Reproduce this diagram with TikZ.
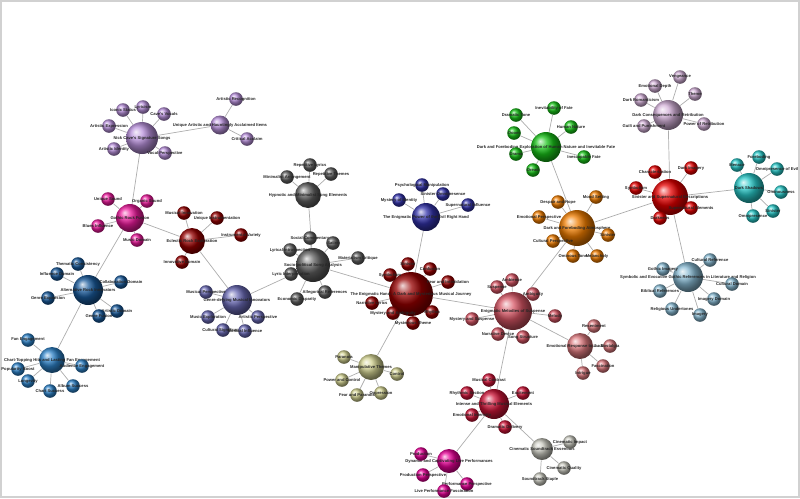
\documentclass[tikz,border=0pt]{standalone}
\usepackage{fontspec}
\newfontfamily\lblfont{Liberation Sans}
\usetikzlibrary{backgrounds}

\definecolor{purpleC}{RGB}{185,145,220}
\definecolor{pinkC}{RGB}{235,25,155}
\definecolor{maroonC}{RGB}{150,0,0}
\definecolor{slateC}{RGB}{105,105,180}
\definecolor{grayC}{RGB}{95,95,95}
\definecolor{navyC}{RGB}{50,50,170}
\definecolor{greenC}{RGB}{25,195,25}
\definecolor{orangeC}{RGB}{240,125,0}
\definecolor{roseC}{RGB}{215,85,100}
\definecolor{salmonC}{RGB}{220,120,125}
\definecolor{crimsonC}{RGB}{205,20,55}
\definecolor{silverC}{RGB}{200,200,190}
\definecolor{magentaC}{RGB}{230,0,150}
\definecolor{oliveC}{RGB}{210,210,145}
\definecolor{steelC}{RGB}{25,90,155}
\definecolor{azureC}{RGB}{45,130,200}
\definecolor{redC}{RGB}{230,0,0}
\definecolor{cyanC}{RGB}{40,200,200}
\definecolor{lightblueC}{RGB}{135,185,210}
\definecolor{mauveC}{RGB}{210,175,215}

\tikzset{
hub/.style 2 args={circle, inner sep=0pt, ball color=#1,
minimum size=#2*0.04cm},
leaf/.style={hub={#1}{6.8}},
link/.style={draw=black!32, line width=0.4pt},
every label/.style={inner sep=0pt, text=black!85,
font=\lblfont\bfseries\fontsize{2.35}{2.5}\selectfont}
}

\begin{document}
\begin{tikzpicture}[x=0.02cm, y=-0.02cm]
\useasboundingbox (0,0) rectangle (800,498);
\draw[black!18, line width=0.04cm] (1,1) rectangle (799,497);

% Nick Cave's songs
\node[hub={purpleC}{16}, label={center:{Nick Cave's Signature Songs}}] (nick) at (142,138) {};
\node[leaf=purpleC, label={center:{Iconic Status}}] (iconic) at (123,110) {};
\node[leaf=purpleC, label={center:{Lyricism}}] (lyricism) at (143,107) {};
\node[leaf=purpleC, label={center:{Cave's Vocals}}] (vocals) at (164,114) {};
\node[leaf=purpleC, label={center:{Artistic Expression}}] (artexpr) at (109,126) {};
\node[leaf=purpleC, label={center:{Artistic Identity}}] (artid) at (114,149) {};
\node[leaf=purpleC, label={center:{Vocal Perspective}}] (vocalp) at (165,153) {};
\node[hub={purpleC}{9.5}, label={center:{Unique Artistic and Hauntingly Acclaimed Items}}] (unique) at (220,125) {};
\node[leaf=purpleC, label={center:{Artistic Recognition}}] (artrec) at (236,99) {};
\node[leaf=purpleC, label={center:{Critical Acclaim}}] (critical) at (247,139) {};

% gothic rock
\node[hub={pinkC}{14}, label={center:{Gothic Rock Fusion}}] (gothic) at (130,218) {};
\node[leaf=pinkC, label={center:{Unique Sound}}] (usound) at (108,199) {};
\node[leaf=pinkC, label={center:{Organic Sound}}] (osound) at (147,201) {};
\node[leaf=pinkC, label={center:{Blues Influence}}] (blues) at (98,226) {};
\node[leaf=pinkC, label={center:{Music Domain}}] (musicdom) at (137,240) {};

\node[hub={maroonC}{13}, label={center:{Eclectic Rock Exploration}}] (eclectic) at (192,241) {};
\node[leaf=maroonC, label={center:{Musical Innovation}}] (musinnov) at (184,213) {};
\node[leaf=maroonC, label={center:{Unique Instrumentation}}] (uinstr) at (217,218) {};
\node[leaf=maroonC, label={center:{Instrumental Variety}}] (instvar) at (241,235) {};
\node[leaf=maroonC, label={center:{Innovative Domain}}] (innovdom) at (182,262) {};

\node[hub={slateC}{15}, label={center:{Genre-defying Musical Innovators}}] (genre) at (237,300) {};
\node[leaf=slateC, label={center:{Musical Perspective}}] (musper) at (206,292) {};
\node[leaf=slateC, label={center:{Music Exploration}}] (musexp) at (208,317) {};
\node[leaf=slateC, label={center:{Artistic Perspective}}] (artper) at (258,317) {};
\node[leaf=slateC, label={center:{Cultural Significance}}] (cultsig) at (223,330) {};
\node[leaf=slateC, label={center:{Musical Influence}}] (musinf) at (245,331) {};

% alternative rock
\node[hub={steelC}{15}, label={center:{Alternative Rock Innovators}}] (altrock) at (88,290) {};
\node[leaf=steelC, label={center:{Thematic Consistency}}] (thematic) at (78,264) {};
\node[leaf=steelC, label={center:{Influence Domain}}] (infdom) at (57,274) {};
\node[leaf=steelC, label={center:{Collaboration Domain}}] (collab) at (121,282) {};
\node[leaf=steelC, label={center:{Genre Expansion}}] (genexp) at (48,298) {};
\node[leaf=steelC, label={center:{Artistic Domain}}] (artdom) at (117,311) {};
\node[leaf=steelC, label={center:{Genre Fusion}}] (genfus) at (99,316) {};

\node[hub={azureC}{13}, label={center:{Chart-Topping Hits and Lasting Fan Engagement}}] (chart) at (52,360) {};
\node[leaf=azureC, label={center:{Fan Engagement}}] (fanen) at (28,340) {};
\node[leaf=azureC, label={center:{Popularity Boost}}] (popboost) at (18,369) {};
\node[leaf=azureC, label={center:{Longevity}}] (longev) at (28,381) {};
\node[leaf=azureC, label={center:{Chart Success}}] (chartsucc) at (50,391) {};
\node[leaf=azureC, label={center:{Album Success}}] (albumsucc) at (73,386) {};
\node[leaf=azureC, label={center:{Audience Engagement}}] (audien) at (82,366) {};

% socio-political
\node[hub={grayC}{17}, label={center:{Socio-political Song Analysis}}] (socio) at (313,265) {};
\node[leaf=grayC, label={center:{Social Commentary}}] (socialc) at (310,238) {};
\node[leaf=grayC, label={center:{Lyrical Introspection}}] (lyrintro) at (290,250) {};
\node[leaf=grayC, label={center:{Lyric Interpretation}}] (lyrinterp) at (291,274) {};
\node[leaf=grayC, label={center:{Satire}}] (satire) at (333,243) {};
\node[leaf=grayC, label={center:{Materialism Critique}}] (materialism) at (358,258) {};
\node[leaf=grayC, label={center:{Allegorical References}}] (allegor) at (325,292) {};
\node[leaf=grayC, label={center:{Economic Disparity}}] (econ) at (297,299) {};

\node[hub={grayC}{13}, label={center:{Hypnotic and Minimalist Song Elements}}] (hypnotic) at (308,195) {};
\node[leaf=grayC, label={center:{Minimalist Arrangement}}] (minimal) at (287,177) {};
\node[leaf=grayC, label={center:{Repetitive Lyrics}}] (replyr) at (310,165) {};
\node[leaf=grayC, label={center:{Repetitive Themes}}] (repthem) at (331,174) {};

% the enigmatic hand
\node[hub={maroonC}{22}, label={center:{The Enigmatic Hand: A Dark and Mysterious Musical Journey}}] (enigma) at (411,294) {};
\node[leaf=maroonC, label={center:{Sinister}}] (sinister1) at (408,264) {};
\node[leaf=maroonC, label={center:{Confusion}}] (confusion) at (430,269) {};
\node[leaf=maroonC, label={center:{Fear and Intimidation}}] (fearint) at (448,282) {};
\node[leaf=maroonC, label={center:{Symbolism}}] (symb1) at (390,275) {};
\node[leaf=maroonC, label={center:{Narrative Lyrics}}] (narrlyr) at (372,303) {};
\node[leaf=maroonC, label={center:{Mystery and Ambiguity}}] (mystamb) at (393,313) {};
\node[leaf=maroonC, label={center:{Rhythm}}] (rhythm) at (432,312) {};
\node[leaf=maroonC, label={center:{Mysterious Theme}}] (mystheme) at (413,323) {};

\node[hub={navyC}{14}, label={center:{The Enigmatic Power of the Evil Right Hand}}] (evil) at (426,217) {};
\node[leaf=navyC, label={center:{Psychological Manipulation}}] (psych) at (422,185) {};
\node[leaf=navyC, label={center:{Mystery of Identity}}] (mystid) at (399,200) {};
\node[leaf=navyC, label={center:{Sinister Omnipresence}}] (omnip1) at (443,194) {};
\node[leaf=navyC, label={center:{Supernatural Influence}}] (supinf) at (468,205) {};

\node[hub={oliveC}{13}, label={center:{Manipulative Themes}}] (manip) at (371,367) {};
\node[leaf=oliveC, label={center:{Paranoia}}] (paranoia) at (344,357) {};
\node[leaf=oliveC, label={center:{Power and Control}}] (power) at (342,380) {};
\node[leaf=oliveC, label={center:{Fear and Paranoia}}] (fearpar) at (357,395) {};
\node[leaf=oliveC, label={center:{Oppression}}] (oppress) at (381,393) {};
\node[leaf=oliveC, label={center:{Control}}] (control) at (397,374) {};

% fate and atmosphere
\node[hub={greenC}{15}, label={center:{Dark and Foreboding Exploration of Human Nature and Inevitable Fate}}] (fate) at (546,147) {};
\node[leaf=greenC, label={center:{Dramatic Tone}}] (dramtone) at (516,115) {};
\node[leaf=greenC, label={center:{Inevitability of Fate}}] (inevit) at (554,108) {};
\node[leaf=greenC, label={center:{Human Nature}}] (human) at (571,127) {};
\node[leaf=greenC, label={center:{Doom}}] (doom) at (514,133) {};
\node[leaf=greenC, label={center:{Drama}}] (drama) at (516,154) {};
\node[leaf=greenC, label={center:{Inescapable Fate}}] (inesc) at (584,157) {};
\node[leaf=greenC, label={center:{Dread}}] (dread) at (533,170) {};

\node[hub={orangeC}{18}, label={center:{Dark and Foreboding Atmosphere}}] (atmos) at (577,228) {};
\node[leaf=orangeC, label={center:{Despair and Hope}}] (despair) at (558,202) {};
\node[leaf=orangeC, label={center:{Mood Setting}}] (mood) at (596,197) {};
\node[leaf=orangeC, label={center:{Emotional Perspective}}] (emoper) at (539,217) {};
\node[leaf=orangeC, label={center:{Cultural Perspective}}] (cultper) at (553,241) {};
\node[leaf=orangeC, label={center:{Ominous Tone}}] (omtone) at (573,256) {};
\node[leaf=orangeC, label={center:{Sinister}}] (sinister2) at (608,235) {};
\node[leaf=orangeC, label={center:{Melancholy}}] (melan) at (597,256) {};

% melodies
\node[hub={roseC}{19}, label={center:{Enigmatic Melodies of Suspense}}] (melodies) at (513,311) {};
\node[leaf=roseC, label={center:{Suspense}}] (suspense) at (497,287) {};
\node[leaf=roseC, label={center:{Ambience}}] (ambience) at (512,280) {};
\node[leaf=roseC, label={center:{Ambiguity}}] (ambig) at (533,294) {};
\node[leaf=roseC, label={center:{Melody}}] (melody) at (555,316) {};
\node[leaf=roseC, label={center:{Mystery and Suspense}}] (mystsus) at (472,319) {};
\node[leaf=roseC, label={center:{Narrative Device}}] (narrdev) at (498,334) {};
\node[leaf=roseC, label={center:{Song Structure}}] (songstr) at (523,337) {};

\node[hub={salmonC}{13}, label={center:{Emotional Response to the Ballad}}] (emoresp) at (580,346) {};
\node[leaf=salmonC, label={center:{Resentment}}] (resent) at (594,326) {};
\node[leaf=salmonC, label={center:{Nostalgia}}] (nostal) at (610,346) {};
\node[leaf=salmonC, label={center:{Fascination}}] (fascin) at (603,366) {};
\node[leaf=salmonC, label={center:{Intrigue}}] (intrigue) at (583,373) {};

\node[hub={crimsonC}{15}, label={center:{Intense and Thrilling Musical Elements}}] (intense) at (494,404) {};
\node[leaf=crimsonC, label={center:{Musical Contrast}}] (muscontr) at (489,380) {};
\node[leaf=crimsonC, label={center:{Rhythmic Section}}] (rhysect) at (467,393) {};
\node[leaf=crimsonC, label={center:{Excitement}}] (excite) at (523,393) {};
\node[leaf=crimsonC, label={center:{Emotional Intensity}}] (emoint) at (472,415) {};
\node[leaf=crimsonC, label={center:{Dramatic Delivery}}] (dramdel) at (505,427) {};

\node[hub={silverC}{11}, label={center:{Cinematic Soundtrack Essentials}}] (cinema) at (542,449) {};
\node[leaf=silverC, label={center:{Cinematic Impact}}] (cinimp) at (570,442) {};
\node[leaf=silverC, label={center:{Cinematic Quality}}] (cinqual) at (564,468) {};
\node[leaf=silverC, label={center:{Soundtrack Staple}}] (staple) at (540,479) {};

\node[hub={magentaC}{12}, label={center:{Dynamic and Captivating Live Performances}}] (dynamic) at (449,461) {};
\node[leaf=magentaC, label={center:{Production}}] (prod) at (421,454) {};
\node[leaf=magentaC, label={center:{Production Perspective}}] (prodper) at (423,475) {};
\node[leaf=magentaC, label={center:{Performance Perspective}}] (perfper) at (467,484) {};
\node[leaf=magentaC, label={center:{Live Performance Fascination}}] (livefac) at (444,491) {};

% sinister descriptions
\node[hub={redC}{18}, label={center:{Sinister and Supernatural Descriptions}}] (sinsup) at (670,197) {};
\node[leaf=redC, label={center:{Characterization}}] (charact) at (655,172) {};
\node[leaf=redC, label={center:{Dark Imagery}}] (darkimg) at (691,168) {};
\node[leaf=redC, label={center:{Symbolism}}] (symb2) at (636,188) {};
\node[leaf=redC, label={center:{Supernatural Elements}}] (supel) at (691,208) {};
\node[leaf=redC, label={center:{Darkness}}] (darkness) at (660,218) {};

\node[hub={cyanC}{15}, label={center:{Dark Shadows}}] (shadows) at (749,188) {};
\node[leaf=cyanC, label={center:{Menace}}] (menace) at (737,165) {};
\node[leaf=cyanC, label={center:{Foreboding}}] (forebod) at (759,157) {};
\node[leaf=cyanC, label={center:{Omnipresence of Evil}}] (omnievil) at (777,169) {};
\node[leaf=cyanC, label={center:{Ominousness}}] (ominous) at (781,192) {};
\node[leaf=cyanC, label={center:{Sinister}}] (sinister3) at (773,211) {};
\node[leaf=cyanC, label={center:{Omnipresence}}] (omnip2) at (753,216) {};

\node[hub={lightblueC}{15}, label={center:{Symbolic and Evocative Gothic References in Literature and Religion}}] (gothref) at (688,277) {};
\node[leaf=lightblueC, label={center:{Cultural Reference}}] (cultref) at (710,260) {};
\node[leaf=lightblueC, label={center:{Gothic Imagery}}] (gothimg) at (663,269) {};
\node[leaf=lightblueC, label={center:{Cultural Domain}}] (cultdom) at (732,284) {};
\node[leaf=lightblueC, label={center:{Biblical References}}] (biblical) at (660,291) {};
\node[leaf=lightblueC, label={center:{Imagery Domain}}] (imgdom) at (714,299) {};
\node[leaf=lightblueC, label={center:{Religious Undertones}}] (religious) at (672,309) {};
\node[leaf=lightblueC, label={center:{Imagery}}] (imagery) at (700,315) {};

\node[hub={mauveC}{15}, label={center:{Dark Consequences and Retribution}}] (conseq) at (668,115) {};
\node[leaf=mauveC, label={center:{Vengeance}}] (vengeance) at (680,77) {};
\node[leaf=mauveC, label={center:{Emotional Depth}}] (emodepth) at (655,86) {};
\node[leaf=mauveC, label={center:{Theme}}] (theme) at (695,94) {};
\node[leaf=mauveC, label={center:{Dark Romanticism}}] (darkrom) at (641,100) {};
\node[leaf=mauveC, label={center:{Guilt and Punishment}}] (guilt) at (644,126) {};
\node[leaf=mauveC, label={center:{Power of Retribution}}] (powret) at (704,124) {};

% connectors
\begin{scope}[on background layer]
\draw[link] (nick) edge (iconic) edge (lyricism) edge (vocals) edge (artexpr)
edge (artid) edge (vocalp) edge (unique) edge (gothic);
\draw[link] (unique) edge (artrec) edge (critical);
\draw[link] (gothic) edge (usound) edge (osound) edge (blues) edge (musicdom)
edge (eclectic) edge (altrock);
\draw[link] (eclectic) edge (musinnov) edge (uinstr) edge (instvar)
edge (innovdom) edge (genre);
\draw[link] (genre) edge (musper) edge (musexp) edge (artper) edge (cultsig)
edge (musinf) edge (socio);
\draw[link] (altrock) edge (thematic) edge (infdom) edge (collab) edge (genexp)
edge (artdom) edge (genfus) edge (chart);
\draw[link] (chart) edge (fanen) edge (popboost) edge (longev) edge (chartsucc)
edge (albumsucc) edge (audien);
\draw[link] (socio) edge (socialc) edge (lyrintro) edge (lyrinterp) edge (satire)
edge (materialism) edge (allegor) edge (econ) edge (hypnotic) edge (enigma);
\draw[link] (hypnotic) edge (minimal) edge (replyr) edge (repthem);
\draw[link] (enigma) edge (sinister1) edge (confusion) edge (fearint) edge (symb1)
edge (narrlyr) edge (mystamb) edge (rhythm) edge (mystheme)
edge (evil) edge (manip) edge (melodies);
\draw[link] (evil) edge (psych) edge (mystid) edge (omnip1) edge (supinf);
\draw[link] (manip) edge (paranoia) edge (power) edge (fearpar) edge (oppress)
edge (control);
\draw[link] (melodies) edge (suspense) edge (ambience) edge (ambig) edge (melody)
edge (mystsus) edge (narrdev) edge (songstr)
edge (atmos) edge (emoresp) edge (intense);
\draw[link] (emoresp) edge (resent) edge (nostal) edge (fascin) edge (intrigue);
\draw[link] (intense) edge (muscontr) edge (rhysect) edge (excite) edge (emoint)
edge (dramdel) edge (cinema) edge (dynamic);
\draw[link] (cinema) edge (cinimp) edge (cinqual) edge (staple);
\draw[link] (dynamic) edge (prod) edge (prodper) edge (perfper) edge (livefac);
\draw[link] (atmos) edge (despair) edge (mood) edge (emoper) edge (cultper)
edge (omtone) edge (sinister2) edge (melan) edge (fate) edge (sinsup);
\draw[link] (fate) edge (dramtone) edge (inevit) edge (human) edge (doom)
edge (drama) edge (inesc) edge (dread);
\draw[link] (sinsup) edge (charact) edge (darkimg) edge (symb2) edge (supel)
edge (darkness) edge (conseq) edge (shadows) edge (gothref);
\draw[link] (shadows) edge (menace) edge (forebod) edge (omnievil) edge (ominous)
edge (sinister3) edge (omnip2);
\draw[link] (gothref) edge (cultref) edge (gothimg) edge (cultdom) edge (biblical)
edge (imgdom) edge (religious) edge (imagery);
\draw[link] (conseq) edge (vengeance) edge (emodepth) edge (theme) edge (darkrom)
edge (guilt) edge (powret);
\end{scope}
\end{tikzpicture}
\end{document}
